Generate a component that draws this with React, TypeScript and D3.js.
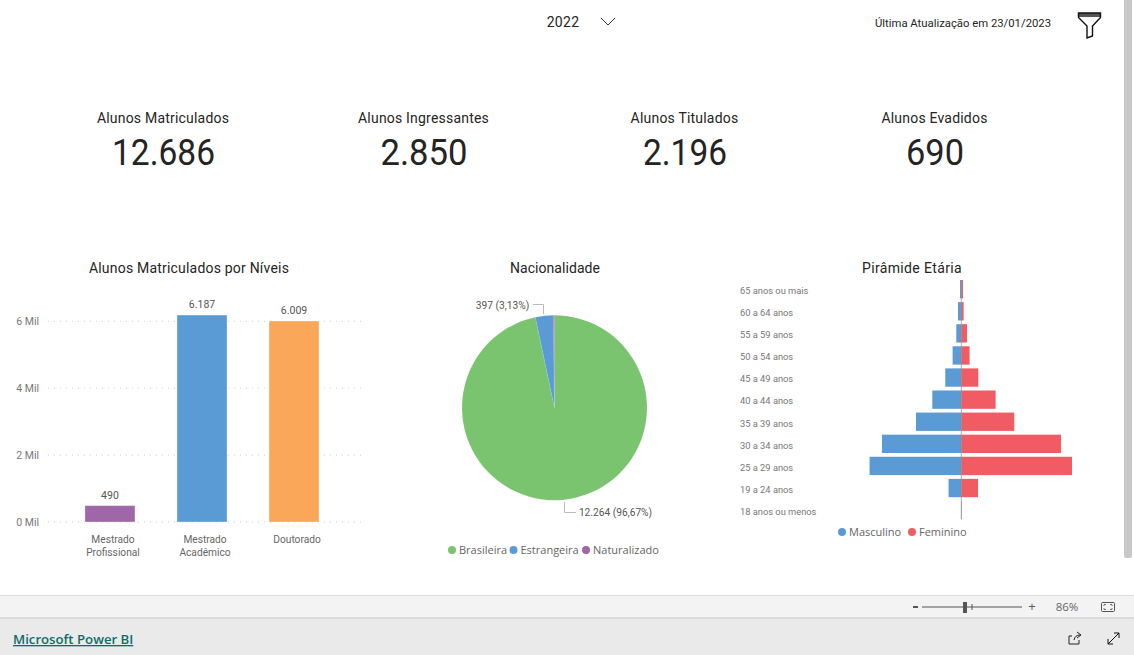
import { useEffect, useRef } from 'react';
import * as d3 from 'd3';

const kpiLabels = ['Alunos Matriculados', 'Alunos Ingressantes', 'Alunos Titulados', 'Alunos Evadidos'];
const kpiValues = ['12.686', '2.850', '2.196', '690'];

const levels = ['Mestrado Profissional', 'Mestrado Acadêmico', 'Doutorado'];
const levelValues = [490, 6187, 6009];
const levelLabels = ['490', '6.187', '6.009'];
const levelTicks = [0, 2000, 4000, 6000];

const nationalities = ['Brasileira', 'Estrangeira', 'Naturalizado'];
const nationalityValues = [12264, 397, 25];

const ageGroups = [
  '65 anos ou mais', '60 a 64 anos', '55 a 59 anos', '50 a 54 anos', '45 a 49 anos', '40 a 44 anos',
  '35 a 39 anos', '30 a 34 anos', '25 a 29 anos', '19 a 24 anos', '18 anos ou menos',
];
const maleValues = [26, 66, 99, 172, 316, 573, 895, 1567, 1812, 251, 6];
const femaleValues = [33, 46, 113, 164, 336, 678, 1047, 1970, 2187, 330, 6];

const BLUE = '#5b9bd5';
const GREEN = '#7bc46f';
const PURPLE = '#a066aa';
const ORANGE = '#faa75a';
const RED = '#f15c64';
const DIN = 'Roboto, sans-serif';
const UI = '"Open Sans", sans-serif';

const App = () => {
  const chartRef = useRef<SVGSVGElement>(null);

  useEffect(() => {
    if (!chartRef.current) return;
    const svg = d3.select(chartRef.current);
    svg.selectAll('*').remove();

    const label = (x: number, y: number, str: string, size: number, fill: string, anchor = 'middle', font = DIN, spacing = 0) =>
      svg.append('text')
        .attr('x', x).attr('y', y)
        .attr('text-anchor', anchor)
        .attr('font-family', font)
        .attr('font-size', size)
        .attr('letter-spacing', spacing)
        .attr('fill', fill)
        .text(str);

    // Header
    label(563, 27, '2022', 14, '#252423', 'middle', DIN, 0.3);
    svg.append('path').attr('d', 'M601,18 L608,25 L615,18').attr('fill', 'none').attr('stroke', '#333').attr('stroke-width', 1);
    label(963, 27, 'Última Atualização em 23/01/2023', 11.3, '#252423', 'middle', DIN);
    svg.append('rect').attr('x', 1078.5).attr('y', 13).attr('width', 22).attr('height', 4).attr('fill', '#555');
    svg.append('path')
      .attr('d', 'M1078.5,13 H1100.5 V17.5 L1092.5,26 V36 L1087,38 V26 L1078.5,17.5 Z')
      .attr('fill', 'none').attr('stroke', '#111').attr('stroke-width', 1.4);

    // KPI cards
    const kpiX = [163.5, 424, 685, 935];
    const kpiWidths = [103, 87, 84, 58];
    kpiLabels.forEach((d, i) => {
      label(kpiX[i] - 0.5, 123, d, 14, '#252423', 'middle', DIN, 0.2);
      label(kpiX[i], 165, kpiValues[i], 36, '#252423', 'middle', DIN)
        .attr('textLength', kpiWidths[i])
        .attr('lengthAdjust', 'spacingAndGlyphs');
    });

    // Bars by level
    label(189, 273, 'Alunos Matriculados por Níveis', 14, '#252423', 'middle', DIN, 0.2);
    const xBar = d3.scaleBand().domain(levels).range([64, 340]).paddingInner(0.457).paddingOuter(0.228);
    const yBar = d3.scaleLinear().domain([0, 6000]).range([522, 321.3]);
    const yAxis = svg.append('g').call(
      d3.axisLeft(yBar).tickValues(levelTicks).tickSize(0).tickPadding(9).tickFormat(d => `${+d / 1000} Mil`)
    );
    yAxis.attr('transform', 'translate(48,0)');
    yAxis.select('.domain').remove();
    yAxis.selectAll('text').attr('font-family', DIN).attr('font-size', 10.5).attr('fill', '#777');
    svg.append('g').selectAll('line').data(levelTicks).join('line')
      .attr('x1', 48).attr('x2', 362)
      .attr('y1', d => yBar(d)).attr('y2', d => yBar(d))
      .attr('stroke', '#cfcfcf').attr('stroke-width', 1).attr('stroke-dasharray', '1,5');
    const barColors = [PURPLE, BLUE, ORANGE];
    svg.append('g').selectAll('rect').data(levels).join('rect')
      .attr('x', d => xBar(d) || 0)
      .attr('y', (d, i) => yBar(levelValues[i]))
      .attr('width', xBar.bandwidth())
      .attr('height', (d, i) => yBar(0) - yBar(levelValues[i]))
      .attr('fill', (d, i) => barColors[i])
      .attr('stroke', '#fff').attr('stroke-opacity', 0.3);
    levels.forEach((d, i) => {
      const cx = (xBar(d) || 0) + xBar.bandwidth() / 2;
      label(cx, yBar(levelValues[i]) - 7, levelLabels[i], 10.5, '#555', 'middle', DIN);
      d.split(' ').forEach((p, j) => label(cx + 3, 543 + j * 13, p, 10.2, '#666', 'middle', DIN));
    });

    // Nationality pie
    label(555, 273, 'Nacionalidade', 14, '#252423', 'middle', DIN, 0.05);
    const pie = d3.pie<number>().sort(null)(nationalityValues);
    const arc = d3.arc<d3.PieArcDatum<number>>().innerRadius(0).outerRadius(92.5);
    const pieColors = [GREEN, BLUE, PURPLE];
    svg.append('g').attr('transform', 'translate(554.5,407.7)')
      .selectAll('path').data(pie).join('path')
      .attr('d', arc)
      .attr('fill', (d, i) => pieColors[i])
      .attr('stroke', '#fff').attr('stroke-opacity', 0.2).attr('stroke-width', 0.4);
    svg.append('path').attr('d', 'M533,304.5 H543.5 V314').attr('fill', 'none').attr('stroke', '#bbb');
    svg.append('path').attr('d', 'M564.5,502 V512.5 H576').attr('fill', 'none').attr('stroke', '#bbb');
    label(502.5, 309, '397 (3,13%)', 10.2, '#555', 'middle', DIN);
    label(615.5, 516, '12.264 (96,67%)', 10.2, '#555', 'middle', DIN);
    const pieLegendX = [452, 513.5, 586];
    nationalities.forEach((d, i) => {
      svg.append('circle').attr('cx', pieLegendX[i]).attr('cy', 550).attr('r', 4).attr('fill', pieColors[i]);
      label(pieLegendX[i] + 7, 554, d, 11, '#666', 'start', UI);
    });

    // Age pyramid
    label(912, 273, 'Pirâmide Etária', 14, '#252423', 'middle', DIN, 0.35);
    const xAge = d3.scaleLinear().domain([-2400, 2400]).range([961.3 - 121.5, 961.3 + 121.5]);
    const yAge = d3.scaleBand().domain(ageGroups).range([280, 519.3]).paddingInner(0.17).paddingOuter(0);
    const xMid = xAge(0);
    svg.append('g').selectAll('rect').data(ageGroups).join('rect')
      .attr('x', (d, i) => xAge(-maleValues[i]))
      .attr('y', d => yAge(d) || 0)
      .attr('width', (d, i) => xMid - xAge(-maleValues[i]))
      .attr('height', yAge.bandwidth())
      .attr('fill', BLUE);
    svg.append('g').selectAll('rect').data(ageGroups).join('rect')
      .attr('x', xMid)
      .attr('y', d => yAge(d) || 0)
      .attr('width', (d, i) => xAge(femaleValues[i]) - xMid)
      .attr('height', yAge.bandwidth())
      .attr('fill', RED);
    svg.append('line').attr('x1', xMid).attr('x2', xMid).attr('y1', 280).attr('y2', 519.3)
      .attr('stroke', '#888').attr('stroke-width', 1).attr('stroke-opacity', 0.7);
    ageGroups.forEach(d => {
      label(740, (yAge(d) || 0) + yAge.bandwidth() / 2 + 4.8, d, 9.3, '#777', 'start', DIN);
    });
    svg.append('circle').attr('cx', 842).attr('cy', 532).attr('r', 4).attr('fill', BLUE);
    label(849, 536, 'Masculino', 11, '#666', 'start', UI);
    svg.append('circle').attr('cx', 912).attr('cy', 532).attr('r', 4).attr('fill', RED);
    label(919, 536, 'Feminino', 11, '#666', 'start', UI);

    // Scrollbar and Power BI footer
    svg.append('rect').attr('x', 1124).attr('y', -4).attr('width', 8).attr('height', 562).attr('rx', 2).attr('fill', '#c8c8c8');
    svg.append('rect').attr('x', 0).attr('y', 596).attr('width', 1134).attr('height', 22).attr('fill', '#f3f3f3');
    svg.append('rect').attr('x', 0).attr('y', 618).attr('width', 1134).attr('height', 37).attr('fill', '#eaeaea');
    svg.append('line').attr('x1', 0).attr('x2', 1134).attr('y1', 595.5).attr('y2', 595.5).attr('stroke', '#dcdcdc');
    svg.append('line').attr('x1', 0).attr('x2', 1134).attr('y1', 618).attr('y2', 618).attr('stroke', '#c8c8c8');
    svg.append('rect').attr('x', 913).attr('y', 606).attr('width', 5).attr('height', 2).attr('fill', '#555');
    svg.append('line').attr('x1', 922).attr('x2', 1022).attr('y1', 607).attr('y2', 607).attr('stroke', '#555');
    svg.append('line').attr('x1', 972).attr('x2', 972).attr('y1', 604).attr('y2', 610).attr('stroke', '#555');
    svg.append('rect').attr('x', 963).attr('y', 602).attr('width', 4).attr('height', 11).attr('fill', '#555');
    label(1032, 611, '+', 13, '#555', 'middle', UI);
    label(1067, 611, '86%', 11.5, '#666', 'middle', UI);
    svg.append('rect').attr('x', 1101.5).attr('y', 602.5).attr('width', 13).attr('height', 9).attr('rx', 1).attr('fill', 'none').attr('stroke', '#555');
    svg.append('path').attr('d', 'M1104,606 V604.5 H1106 M1110,604.5 H1112 V606 M1104,608 V609.5 H1106 M1110,609.5 H1112 V608')
      .attr('fill', 'none').attr('stroke', '#555').attr('stroke-width', 0.8);
    label(13, 644, 'Microsoft Power BI', 13.2, '#0f6b6f', 'start', UI).attr('font-weight', 600).attr('text-decoration', 'underline');
    svg.append('path').attr('d', 'M1069,636 H1072 M1069,636 V644 H1079 V640 M1074,640 Q1075,635 1080,635 M1077,632 L1081,635 L1077,638')
      .attr('fill', 'none').attr('stroke', '#222');
    svg.append('path').attr('d', 'M1108,644 L1119,633 M1114,633 H1119 V638 M1108,639 V644 H1113')
      .attr('fill', 'none').attr('stroke', '#111');
  }, []);

  return <svg ref={chartRef} width={1134} height={655} style={{ position: 'fixed', left: 0, top: 0, background: '#fff' }} />;
};

export default App;
